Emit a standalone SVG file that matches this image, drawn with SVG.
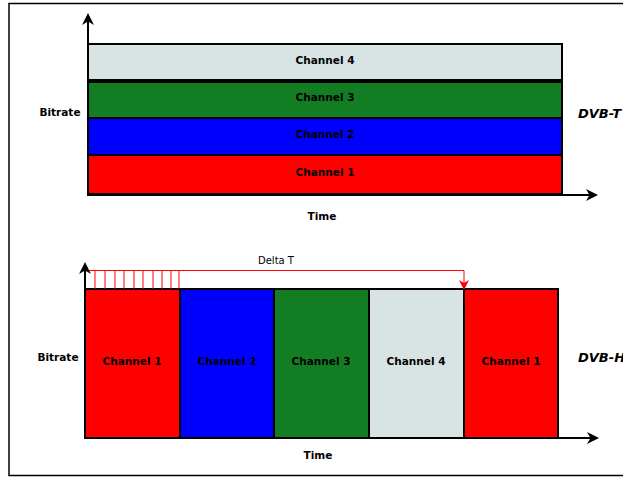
<svg xmlns="http://www.w3.org/2000/svg" width="623" height="477" viewBox="0 0 623 477">
<style>
.ch{stroke:#000;stroke-width:2}
.lbl{font-family:"DejaVu Sans",sans-serif;font-weight:bold;font-size:10.5px;text-anchor:middle}
.dvb{font-family:"DejaVu Sans",sans-serif;font-weight:bold;font-style:italic;font-size:13px}
.ax{stroke:#000;stroke-width:2;fill:none}
.red{stroke:#ff0000;stroke-width:1;fill:none}
</style>
<defs>
<marker id="ah" markerWidth="12" markerHeight="12" refX="10" refY="6" orient="auto" markerUnits="userSpaceOnUse">
<path d="M0,0 L12,6 L0,12 L3.5,6 Z" fill="#000"/>
</marker>
<marker id="rh" markerWidth="10" markerHeight="10" refX="8" refY="5" orient="auto" markerUnits="userSpaceOnUse">
<path d="M0,0 L10,5 L0,10 L3,5 Z" fill="#ff0000"/>
</marker>
</defs>
<rect x="9" y="3.5" width="620" height="472" fill="#fff" stroke="#000" stroke-width="1.5"/>
<g id="top-chart">
<g id="t-ch4"><rect class="ch" x="88" y="44" width="474" height="36" fill="#d8e4e4"/><text class="lbl" x="325" y="64">Channel 4</text></g>
<g id="t-ch3"><rect class="ch" x="88" y="82" width="474" height="36" fill="#137d23"/><text class="lbl" x="325" y="101">Channel 3</text></g>
<g id="t-ch2"><rect class="ch" x="88" y="118" width="474" height="37" fill="#0000ff"/><text class="lbl" x="325" y="138">Channel 2</text></g>
<g id="t-ch1"><rect class="ch" x="88" y="155" width="474" height="39" fill="#ff0000"/><text class="lbl" x="325" y="176">Channel 1</text></g>
<text class="lbl" x="60" y="116">Bitrate</text>
<text class="lbl" x="322" y="220">Time</text>
<text class="dvb" x="578" y="118">DVB-T</text>
</g>
<g id="bottom-chart">
<g id="b-ch1a"><rect class="ch" x="85" y="289" width="95" height="149" fill="#ff0000"/><text class="lbl" x="132" y="365">Channel 1</text></g>
<g id="b-ch2"><rect class="ch" x="180" y="289" width="94" height="149" fill="#0000ff"/><text class="lbl" x="227" y="365">Channel 2</text></g>
<g id="b-ch3"><rect class="ch" x="274" y="289" width="95" height="149" fill="#137d23"/><text class="lbl" x="321" y="365">Channel 3</text></g>
<g id="b-ch4"><rect class="ch" x="369" y="289" width="95" height="149" fill="#d8e4e4"/><text class="lbl" x="416" y="365">Channel 4</text></g>
<g id="b-ch1b"><rect class="ch" x="464" y="289" width="94" height="149" fill="#ff0000"/><text class="lbl" x="511" y="365">Channel 1</text></g>
<text class="lbl" x="58" y="361">Bitrate</text>
<text class="lbl" x="318" y="459">Time</text>
<text class="dvb" x="578" y="362">DVB-H</text>
<text x="276" y="264" font-family="DejaVu Sans,sans-serif" font-size="10px" text-anchor="middle">Delta T</text>
</g>
<g id="connectors">
<line class="ax" x1="88" y1="195" x2="88" y2="15" marker-end="url(#ah)"/>
<line class="ax" x1="87" y1="195" x2="596" y2="195" marker-end="url(#ah)"/>
<line class="ax" x1="85" y1="439" x2="85" y2="264" marker-end="url(#ah)"/>
<line class="ax" x1="84" y1="438" x2="597" y2="438" marker-end="url(#ah)"/>
<path class="red" d="M89,270.5 H464 V288" marker-end="url(#rh)"/>
<path class="red" d="M95,270.5V289 M105,270.5V289 M115,270.5V289 M124,270.5V289 M134,270.5V289 M143,270.5V289 M153,270.5V289 M162,270.5V289 M171,270.5V289 M179,270.5V289"/>
</g>
</svg>
